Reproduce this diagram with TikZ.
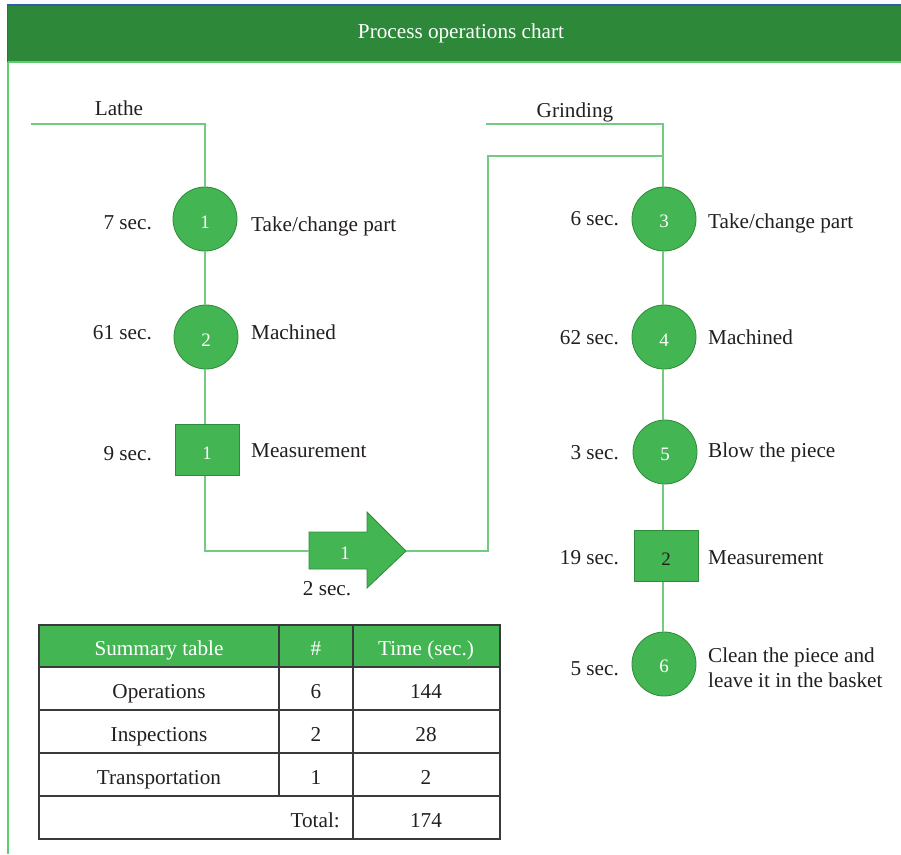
\documentclass[tikz,border=0pt]{standalone}
\usepackage{fontspec}
\setmainfont{Liberation Serif}
\definecolor{hdr}{HTML}{2D883A}
\definecolor{nodefill}{HTML}{44B553}
\definecolor{nodeline}{HTML}{2E8B3A}
\definecolor{conncol}{HTML}{72CB7E}
\definecolor{txt}{HTML}{231F20}
\definecolor{blueedge}{HTML}{2B5FA6}
\definecolor{tblline}{HTML}{3A3A3A}
\definecolor{frameline}{HTML}{5CCF6A}
\newcommand\fsmain{\fontsize{21.2}{25}\selectfont}
\newcommand\fsnum{\fontsize{19}{22}\selectfont}
\begin{document}
\begin{tikzpicture}[x=1pt,y=-1pt,
  opnode/.style={circle, draw=nodeline, fill=nodefill, line width=0.8pt, minimum size=64pt, inner sep=0pt, text=white, font=\fsnum, text height=18pt},
  inspnode/.style={rectangle, draw=nodeline, fill=nodefill, line width=0.8pt, minimum width=64pt, minimum height=51pt, inner sep=0pt, font=\fsnum, text height=18pt},
  lbl/.style={text=txt, font=\fsmain, inner sep=0pt},
  connector/.style={draw=conncol, line width=1.5pt},
  tbl/.style={draw=tblline, line width=1.3pt}
]
\useasboundingbox (0,0) rectangle (901,854);
\fill[white] (0,0) rectangle (901,854);
% header
\fill[hdr] (8,6) rectangle (901,62);
\draw[blueedge, line width=1.5pt] (7.5,62) -- (7.5,5) -- (901,5);
\draw[frameline, line width=2pt] (8,62) -- (901,62);
\draw[frameline, line width=1.5pt] (8,62) -- (8,854);
\node[lbl, text=white, anchor=base] (title) at (461,38) {Process operations chart};

% left column nodes
\node[opnode] (c1) at (205,219) {1};
\node[opnode] (c2) at (206,337) {2};
\node[inspnode, text=white] (s1) at (207,450) {1};
\coordinate (arrtail) at (309,551);
\coordinate (arrtip) at (406,551);
\filldraw[fill=nodefill, draw=nodeline, line width=0.8pt]
  (309,532) -- (367,532) -- (367,512) -- (406,551) -- (367,588) -- (367,569) -- (309,569) -- cycle;
\node[text=white, font=\fsnum, inner sep=0pt, anchor=base] (t1) at (345,559) {1};

% right column nodes
\node[opnode] (c3) at (664,219) {3};
\node[opnode] (c4) at (664,337) {4};
\node[opnode] (c5) at (665,452) {5};
\node[inspnode, text=txt] (s2) at (666,556) {2};
\node[opnode] (c6) at (664,664) {6};

% connectors
\coordinate (lathestart) at (31,124);
\coordinate (lathecorner) at (205,124);
\coordinate (grindstart) at (486,124);
\coordinate (grindcorner) at (663,124);
\coordinate (retbottom) at (488,551);
\coordinate (rettop) at (488,156);
\coordinate (retjoin) at (663,156);
\coordinate (s1corner) at (205,551);
\draw[connector] (lathestart) -- (lathecorner) -- (c1.north);
\draw[connector] (c1.south -| lathecorner) -- (c2.north -| lathecorner);
\draw[connector] (c2.south -| lathecorner) -- (s1.north -| lathecorner);
\draw[connector] (s1.south -| lathecorner) -- (s1corner) -- (arrtail);
\draw[connector] (arrtip) -- (retbottom) -- (rettop) -- (retjoin);
\draw[connector] (grindstart) -- (grindcorner) -- (c3.north -| grindcorner);
\draw[connector] (c3.south -| grindcorner) -- (c4.north -| grindcorner);
\draw[connector] (c4.south -| grindcorner) -- (c5.north -| grindcorner);
\draw[connector] (c5.south -| grindcorner) -- (s2.north -| grindcorner);
\draw[connector] (s2.south -| grindcorner) -- (c6.north -| grindcorner);

% labels left
\node[lbl, anchor=base] (lathe) at (119,115) {Lathe};
\node[lbl, anchor=base east] (tm1) at (152,229) {7 sec.};
\node[lbl, anchor=base west] (d1) at (251,231) {Take/change part};
\node[lbl, anchor=base east] (tm2) at (152,339) {61 sec.};
\node[lbl, anchor=base west] (d2) at (251,339) {Machined};
\node[lbl, anchor=base east] (tm3) at (152,460) {9 sec.};
\node[lbl, anchor=base west] (d3) at (251,457) {Measurement};
\node[lbl, anchor=base] (tm4) at (327,595) {2 sec.};

% labels right
\node[lbl, anchor=base] (grinding) at (575,117) {Grinding};
\node[lbl, anchor=base east] (tm5) at (619,225) {6 sec.};
\node[lbl, anchor=base west] (d5) at (708,228) {Take/change part};
\node[lbl, anchor=base east] (tm6) at (619,344) {62 sec.};
\node[lbl, anchor=base west] (d6) at (708,344) {Machined};
\node[lbl, anchor=base east] (tm7) at (619,459) {3 sec.};
\node[lbl, anchor=base west] (d7) at (708,457) {Blow the piece};
\node[lbl, anchor=base east] (tm8) at (619,564) {19 sec.};
\node[lbl, anchor=base west] (d8) at (708,564) {Measurement};
\node[lbl, anchor=base east] (tm9) at (619,675) {5 sec.};
\node[lbl, anchor=north west, align=left] (d9) at (708,647.5) {Clean the piece and\\leave it in the basket};

% summary table
\fill[nodefill] (39,625) rectangle (500,667);
\draw[tbl] (39,625) rectangle (500,839);
\draw[tbl] (39,667) -- (500,667);
\draw[tbl] (39,710) -- (500,710);
\draw[tbl] (39,753) -- (500,753);
\draw[tbl] (39,796) -- (500,796);
\draw[tbl] (279,625) -- (279,796);
\draw[tbl] (353,625) -- (353,839);
\node[lbl, text=white, anchor=base] (h1) at (159,655) {Summary table};
\node[lbl, text=white, anchor=base] (h2) at (316,655) {\#};
\node[lbl, text=white, anchor=base] (h3) at (426,655) {Time (sec.)};
\node[lbl, anchor=base] (r1a) at (159,698) {Operations};
\node[lbl, anchor=base] (r1b) at (316,698) {6};
\node[lbl, anchor=base] (r1c) at (426,698) {144};
\node[lbl, anchor=base] (r2a) at (159,741) {Inspections};
\node[lbl, anchor=base] (r2b) at (316,741) {2};
\node[lbl, anchor=base] (r2c) at (426,741) {28};
\node[lbl, anchor=base] (r3a) at (159,784) {Transportation};
\node[lbl, anchor=base] (r3b) at (316,784) {1};
\node[lbl, anchor=base] (r3c) at (426,784) {2};
\node[lbl, anchor=base east] (r4a) at (340,827) {Total:};
\node[lbl, anchor=base] (r4c) at (426,827) {174};
\end{tikzpicture}
\end{document}
